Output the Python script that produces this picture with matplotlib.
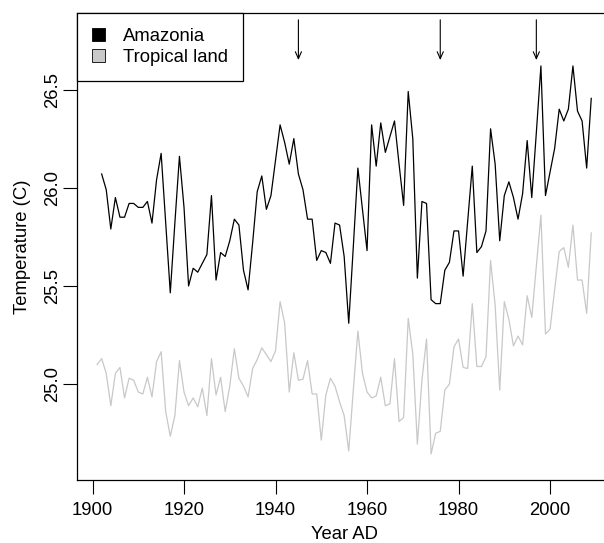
import numpy as np
import matplotlib
matplotlib.use("Agg")
import matplotlib.pyplot as plt
from matplotlib.patches import Patch

plt.rcParams['font.family'] = ['Liberation Sans', 'DejaVu Sans']

# Amazonia, 1902-2009
amazonia_years = np.arange(1902, 2010)
amazonia = [
    26.07, 25.99, 25.79, 25.95, 25.85, 25.85, 25.92, 25.92,             # 1902-1909
    25.90, 25.90, 25.93, 25.82, 26.04, 26.175, 25.82, 25.465, 25.82, 26.16,  # 1910s
    25.90, 25.50, 25.59, 25.57, 25.615, 25.66, 25.96, 25.53, 25.67, 25.65,  # 1920s
    25.73, 25.84, 25.81, 25.58, 25.48, 25.72, 25.98, 26.06, 25.89, 25.96,   # 1930s
    26.14, 26.32, 26.23, 26.12, 26.25, 26.07, 25.99, 25.84, 25.84, 25.63,   # 1940s
    25.68, 25.67, 25.615, 25.82, 25.81, 25.65, 25.31, 25.70, 26.10, 25.89,  # 1950s
    25.68, 26.32, 26.11, 26.33, 26.18, 26.26, 26.34, 26.12, 25.91, 26.49,   # 1960s
    26.25, 25.54, 25.93, 25.92, 25.43, 25.41, 25.41, 25.58, 25.62, 25.78,   # 1970s
    25.78, 25.55, 25.83, 26.11, 25.67, 25.70, 25.78, 26.30, 26.12, 25.73,   # 1980s
    25.96, 26.03, 25.95, 25.84, 25.97, 26.24, 25.95, 26.28, 26.62, 25.96,   # 1990s
    26.08, 26.20, 26.40, 26.34, 26.40, 26.62, 26.39, 26.34, 26.10, 26.455,  # 2000s
]

# Tropical land, 1901-2009
tropical_years = np.arange(1901, 2010)
tropical = [
    25.10, 25.13, 25.055, 24.89, 25.055, 25.085, 24.93, 25.03, 25.02,      # 1901-1909
    24.96, 24.95, 25.035, 24.935, 25.115, 25.165, 24.86, 24.735, 24.84, 25.12,  # 1910s
    24.96, 24.89, 24.93, 24.885, 24.98, 24.84, 25.13, 24.945, 25.035, 24.86,    # 1920s
    24.99, 25.18, 25.03, 24.99, 24.935, 25.08, 25.125, 25.185, 25.15, 25.115,   # 1930s
    25.17, 25.42, 25.31, 24.96, 25.16, 25.02, 25.025, 25.12, 24.95, 24.95,      # 1940s
    24.715, 24.945, 25.03, 24.99, 24.91, 24.84, 24.66, 24.97, 25.27, 25.055,    # 1950s
    24.96, 24.93, 24.94, 25.035, 24.89, 24.90, 25.13, 24.81, 24.83, 25.335,     # 1960s
    25.155, 24.695, 25.02, 25.23, 24.645, 24.75, 24.76, 24.97, 25.00, 25.19,    # 1970s
    25.23, 25.085, 25.08, 25.41, 25.09, 25.09, 25.14, 25.63, 25.40, 24.97,      # 1980s
    25.42, 25.33, 25.195, 25.245, 25.20, 25.45, 25.34, 25.60, 25.86, 25.255,    # 1990s
    25.28, 25.48, 25.675, 25.695, 25.595, 25.81, 25.53, 25.53, 25.36, 25.77,    # 2000s
]

arrow_years = [1945, 1976, 1997]
x_ticks = [1900, 1920, 1940, 1960, 1980, 2000]
y_ticks = [25.0, 25.5, 26.0, 26.5]

grey = '#c8c8c8'
fs = 13.3

fig = plt.figure(figsize=(6.04, 5.43), dpi=100)
ax = fig.add_axes([0.128, 0.116, 0.8836, 0.8595])

ax.plot(tropical_years, tropical, color=grey, lw=0.9)
ax.plot(amazonia_years, amazonia, color='black', lw=0.9)

# R-style 4% padding on x, ylim 24.6-26.8 padded
x0, x1 = 1901, 2009
ax.set_xlim(x0 - 0.04 * (x1 - x0), x1 + 0.04 * (x1 - x0))
ax.set_ylim(24.6 - 0.088, 26.8 + 0.088)

for yr in arrow_years:
    ax.annotate('', xy=(yr, 26.65), xytext=(yr, 26.855),
                arrowprops=dict(arrowstyle='->,head_length=0.5,head_width=0.22',
                                lw=0.8, color='black', mutation_scale=10,
                                shrinkA=0, shrinkB=0))

ax.set_xticks(x_ticks)
ax.set_yticks(y_ticks)
ax.set_yticklabels([f'{v:.1f}' for v in y_ticks])
ax.tick_params(axis='both', direction='out', length=10, width=0.8, labelsize=fs)
ax.tick_params(axis='x', pad=6)
ax.tick_params(axis='y', pad=2, labelrotation=90)
for lab in ax.get_yticklabels():
    lab.set_va('center')

for s in ax.spines.values():
    s.set_linewidth(0.9)

ax.set_xlabel('Year AD', fontsize=fs, labelpad=5)
ax.set_ylabel('Temperature (C)', fontsize=fs, labelpad=9)

handles = [Patch(facecolor='black', edgecolor='black', lw=0.6),
           Patch(facecolor=grey, edgecolor='black', lw=0.6)]
leg = ax.legend(handles, ['Amazonia', 'Tropical land'], loc='upper left',
                fontsize=fs, frameon=True, fancybox=False, framealpha=1,
                edgecolor='black', borderaxespad=0, handlelength=0.72,
                handleheight=0.72, handletextpad=0.95, labelspacing=0.2,
                borderpad=0.8)
leg.get_frame().set_linewidth(0.9)

fig.savefig('out.png', dpi=100)
